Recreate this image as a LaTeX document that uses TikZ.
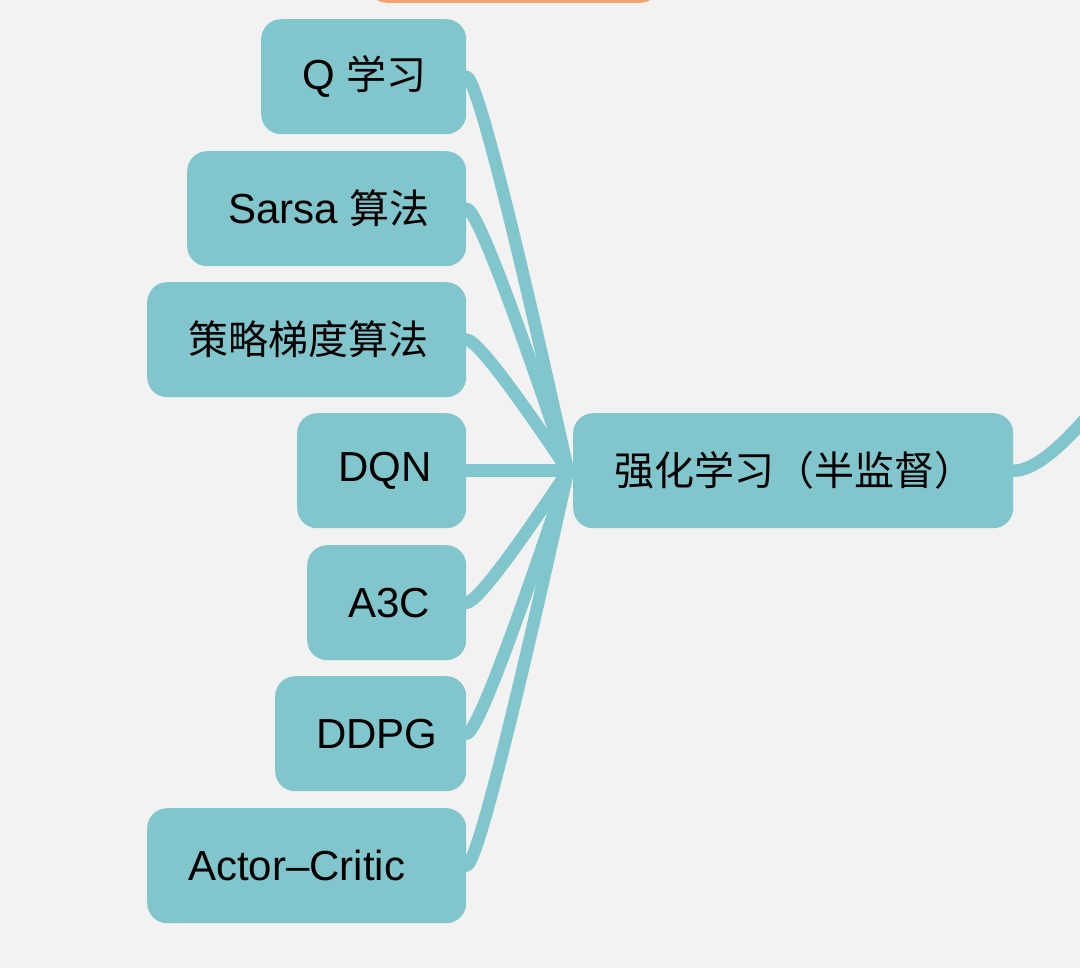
\documentclass[tikz,border=0pt]{standalone}
\usepackage{fontspec}
\setmainfont{Liberation Sans}
\newfontfamily\cjkfont{Noto Sans CJK SC}
\newcommand\zh[1]{{\cjkfont\fontsize{40}{48}\selectfont #1}}
\usetikzlibrary{calc}
\definecolor{bgcol}{HTML}{F2F2F2}
\definecolor{mmteal}{HTML}{80C6CC}
\definecolor{mmorange}{HTML}{F5A26E}
\pgfdeclarelayer{back}
\pgfdeclarelayer{links}
\pgfsetlayers{back,links,main}
\newcommand\lnk[1]{\draw[link] ([xshift=-15pt]#1.east) -- (#1.east) .. controls ([xshift=9.3pt]#1.east) and ($([xshift=-5pt]c.west)!0.667!([xshift=14pt]#1.east)$) .. ([xshift=-5pt]c.west) -- (c.west);}
\begin{document}
\begin{tikzpicture}[x=1pt,y=-1pt,
  box/.style={fill=mmteal, draw=none, rounded corners=20pt, anchor=north west,
    minimum height=115pt, inner xsep=41pt, inner ysep=0pt, text=black,
    font=\fontsize{42}{50}\selectfont},
  link/.style={draw=mmteal, line width=12.5pt, line join=round}]
\useasboundingbox (0,0) rectangle (1080,968);
\clip (0,0) rectangle (1080,968);
\begin{pgfonlayer}{back}
\fill[bgcol] (0,0) rectangle (1080,968);
\end{pgfonlayer}

\node[fill=mmorange, draw=none, rounded corners=20pt, minimum width=293pt, minimum height=60pt, anchor=south west] (root) at (367,3) {};

\node[box] (c) at (573,413) {\makebox[358pt][l]{\zh{强化学习（半监督）}}};

\node[box] (q) at (261,19) {\makebox[123pt][l]{Q \zh{学习}}};
\node[box] (sarsa) at (187,151) {\makebox[197pt][l]{Sarsa \zh{算法}}};
\node[box] (pg) at (147,282) {\makebox[237pt][l]{\zh{策略梯度算法}}};
\node[box] (dqn) at (297,413) {\makebox[87pt][l]{DQN}};
\node[box] (a3c) at (307,545) {\makebox[77pt][l]{A3C}};
\node[box] (ddpg) at (275,676) {\makebox[109pt][l]{DDPG}};
\node[box] (ac) at (147,808) {\makebox[237pt][l]{Actor–Critic}};

\coordinate (parentend) at (1105,395);

\begin{pgfonlayer}{links}
\lnk{q}
\lnk{sarsa}
\lnk{pg}
\draw[link] (dqn.east) -- (c.west);
\lnk{a3c}
\lnk{ddpg}
\lnk{ac}
\draw[link] ([xshift=-15pt]c.east) -- (c.east) .. controls (1034.3,471) and (1065,445.7) .. (parentend);
\end{pgfonlayer}
\end{tikzpicture}
\end{document}
